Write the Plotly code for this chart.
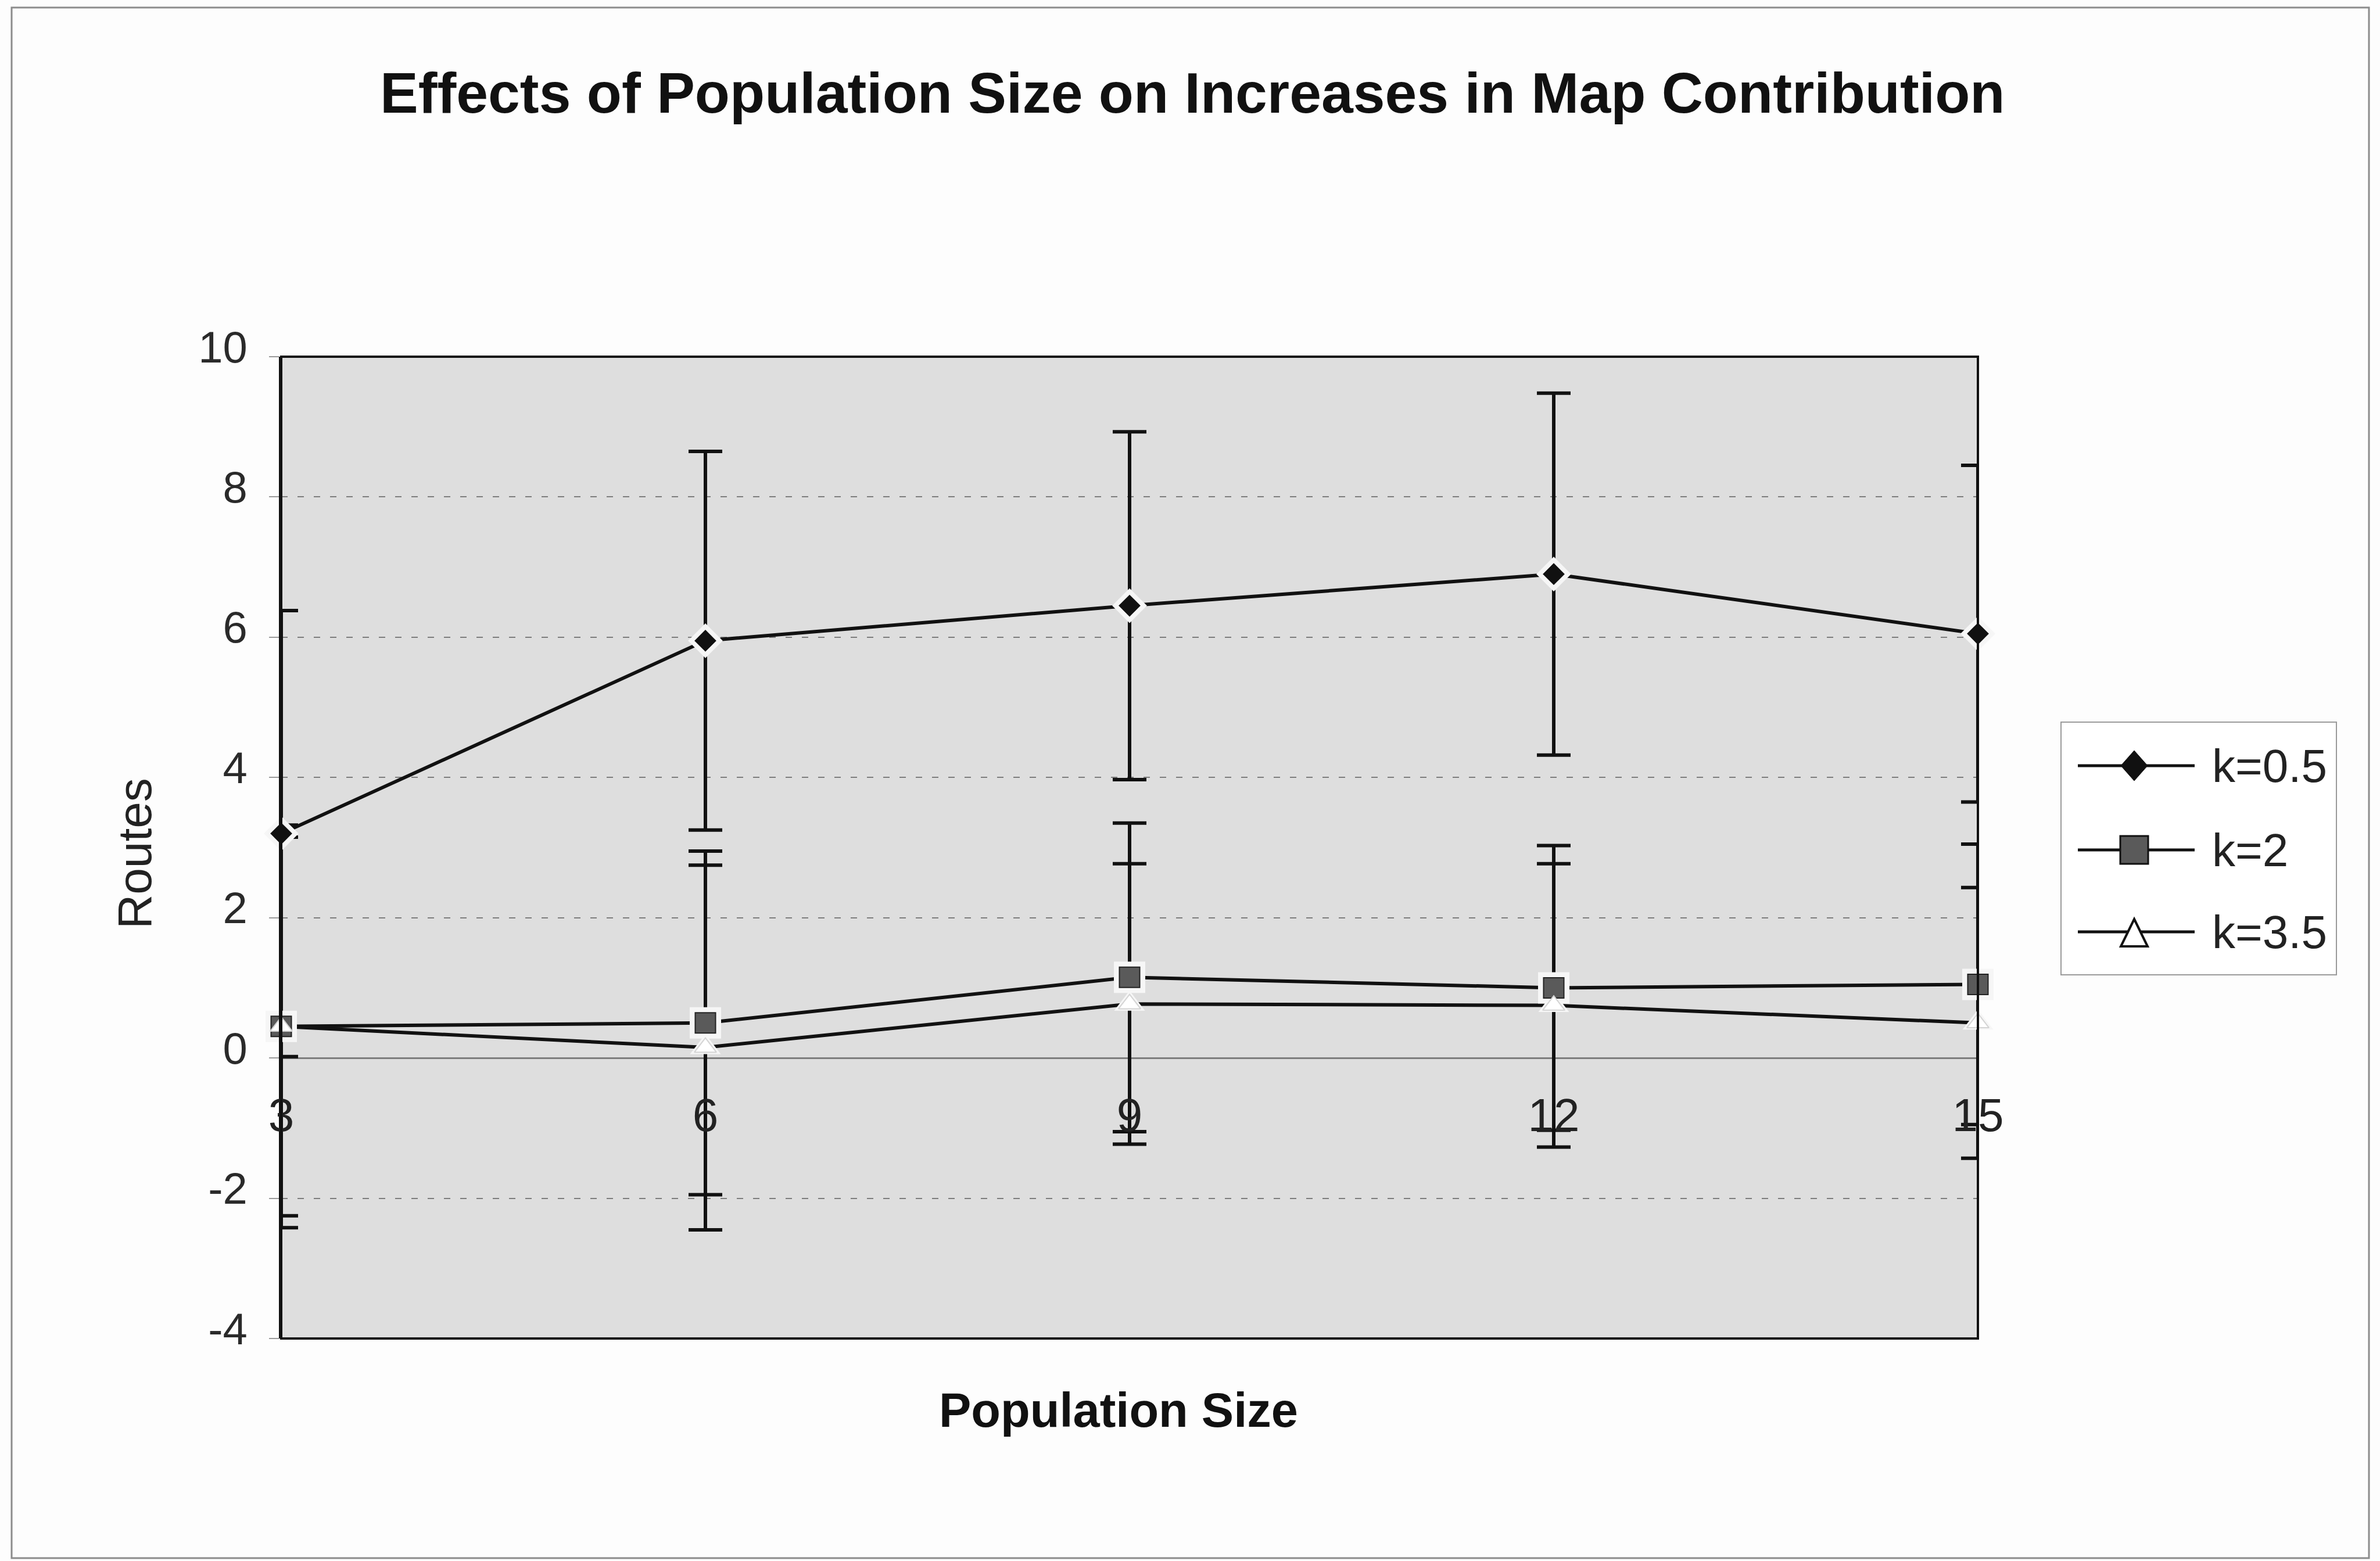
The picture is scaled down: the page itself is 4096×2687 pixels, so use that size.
import plotly.graph_objects as go

# ---- data -------------------------------------------------------------
population = [3, 6, 9, 12, 15]
x_tick_labels = ["3", "6", "9", "12", "15"]

y_tick_vals = [-4, -2, 0, 2, 4, 6, 8, 10]
y_tick_labels = ["-4", "-2", "0", "2", "4", "6", "8", "10"]

k05 = [3.2, 5.95, 6.45, 6.9, 6.05]
k05_err = [3.18, 2.7, 2.48, 2.58, 2.4]

k2 = [0.45, 0.5, 1.15, 1.0, 1.05]
k2_err = [2.7, 2.45, 2.2, 2.03, 2.0]

k35 = [0.45, 0.15, 0.77, 0.75, 0.5]
k35_err = [2.87, 2.6, 2.0, 2.02, 1.93]

series_names = ["k=0.5", "k=2", "k=3.5"]

# ---- geometry ---------------------------------------------------------
W, H = 4096, 2687
L, T = 484, 614          # plot area left / top
R_EDGE, B_EDGE = 3404, 2304
PW, PH = R_EDGE - L, B_EDGE - T

FONT = "Liberation Sans, Arial, sans-serif"
TXT = "#222222"
INK = "#111111"


def px(xp):
    return (xp - L) / PW


def py(yp):
    return 1 - (yp - T) / PH


fig = go.Figure()

err_style = dict(type="data", symmetric=True, color=INK, thickness=6, width=29)

# error bars first so that markers sit on top of them
for vals, errs in [(k05, k05_err), (k2, k2_err), (k35, k35_err)]:
    fig.add_trace(go.Scatter(
        x=population, y=vals, mode="markers",
        marker=dict(size=1, color="rgba(0,0,0,0)"),
        error_y=dict(array=errs, **err_style),
        showlegend=False, hoverinfo="skip", cliponaxis=False,
    ))

# connecting lines
for vals in [k05, k2, k35]:
    fig.add_trace(go.Scatter(
        x=population, y=vals, mode="lines",
        line=dict(color=INK, width=6),
        showlegend=False, hoverinfo="skip",
    ))

# white halos round the markers
halo = [("diamond", 46), ("square", 54), ("triangle-up", 46)]
for vals, (sym, size) in zip([k05, k2, k35], halo):
    fig.add_trace(go.Scatter(
        x=population, y=vals, mode="markers",
        marker=dict(symbol=sym, size=size, color="#f6f6f6", line=dict(width=0)),
        showlegend=False, hoverinfo="skip", cliponaxis=False,
    ))

# the markers themselves
marker_styles = [
    dict(symbol="diamond", size=29, color=INK, line=dict(width=0)),
    dict(symbol="square", size=35, color="#5a5a5a", line=dict(width=2, color="#222222")),
    dict(symbol="triangle-up", size=33, color="#ffffff", line=dict(width=2, color="#d4d4d4")),
]
for vals, name, ms in zip([k05, k2, k35], series_names, marker_styles):
    fig.add_trace(go.Scatter(
        x=population, y=vals, mode="markers", name=name,
        marker=ms, showlegend=False, cliponaxis=False,
    ))

# ---- legend (drawn by hand for long sample lines) ---------------------
leg_box = (3547, 1243, 4021, 1678)
leg_rows = [1318, 1463, 1604]
leg_line = (3576, 3777)
leg_mark_x = 3673
leg_text_x = 3805

shapes = []
annotations = []

# outer chart frame
shapes.append(dict(type="rect", xref="paper", yref="paper",
                   x0=px(20), x1=px(4077), y0=py(13), y1=py(2682),
                   line=dict(color="#8c8c8c", width=3), fillcolor="rgba(0,0,0,0)",
                   layer="below"))
# plot-area frame
shapes.append(dict(type="rect", xref="paper", yref="paper",
                   x0=0, x1=1, y0=0, y1=1,
                   line=dict(color=INK, width=4), layer="above"))
# legend frame
shapes.append(dict(type="rect", xref="paper", yref="paper",
                   x0=px(leg_box[0]), x1=px(leg_box[2]),
                   y0=py(leg_box[1]), y1=py(leg_box[3]),
                   line=dict(color="#9a9a9a", width=2), fillcolor="#ffffff"))


def poly(points):
    return "M" + " L".join(f"{px(a):.6f},{py(b):.6f}" for a, b in points) + " Z"


for yrow, name in zip(leg_rows, series_names):
    shapes.append(dict(type="line", xref="paper", yref="paper",
                       x0=px(leg_line[0]), x1=px(leg_line[1]),
                       y0=py(yrow), y1=py(yrow),
                       line=dict(color=INK, width=5)))
    annotations.append(dict(text=name, xref="paper", yref="paper",
                            x=px(leg_text_x), y=py(yrow), xanchor="left",
                            yanchor="middle", showarrow=False,
                            font=dict(family=FONT, size=80, color=TXT)))

cx = leg_mark_x
r0, r1, r2 = leg_rows
# diamond
shapes.append(dict(type="path", xref="paper", yref="paper",
                   path=poly([(cx, r0 - 26), (cx + 23, r0), (cx, r0 + 26), (cx - 23, r0)]),
                   fillcolor=INK, line=dict(color=INK, width=1)))
# square
shapes.append(dict(type="path", xref="paper", yref="paper",
                   path=poly([(cx - 24, r1 - 24), (cx + 24, r1 - 24),
                              (cx + 24, r1 + 24), (cx - 24, r1 + 24)]),
                   fillcolor="#5a5a5a", line=dict(color=INK, width=3)))
# triangle
shapes.append(dict(type="path", xref="paper", yref="paper",
                   path=poly([(cx, r2 - 22), (cx + 23, r2 + 25), (cx - 23, r2 + 25)]),
                   fillcolor="#ffffff", line=dict(color=INK, width=4)))

# titles
annotations.append(dict(text="Effects of Population Size on Increases in Map Contribution",
                        xref="paper", yref="paper", x=px(2052), y=py(160),
                        xanchor="center", yanchor="middle", showarrow=False,
                        font=dict(family=FONT, size=98.5, color=INK, weight="bold")))
annotations.append(dict(text="Population Size", xref="paper", yref="paper",
                        x=px(1925), y=py(2427), xanchor="center", yanchor="middle",
                        showarrow=False,
                        font=dict(family=FONT, size=83, color=INK, weight="bold")))
annotations.append(dict(text="Routes", xref="paper", yref="paper",
                        x=px(231), y=py(1469), xanchor="center", yanchor="middle",
                        textangle=-90, showarrow=False,
                        font=dict(family=FONT, size=82, color=TXT)))

fig.update_layout(
    width=W, height=H,
    margin=dict(l=L, r=W - R_EDGE, t=T, b=H - B_EDGE, pad=0),
    paper_bgcolor="#fdfdfd",
    plot_bgcolor="#dedede",
    showlegend=False,
    shapes=shapes,
    annotations=annotations,
    xaxis=dict(
        range=[3, 15], tickvals=population, ticktext=x_tick_labels,
        showgrid=False, zeroline=False, showline=False, ticks="",
        anchor="free", position=4 / 14, ticklabelstandoff=45,
        tickfont=dict(family=FONT, size=80, color=TXT),
    ),
    yaxis=dict(
        range=[-4, 10], tickvals=y_tick_vals, ticktext=y_tick_labels,
        showgrid=True, gridcolor="#7d7d7d", gridwidth=2, griddash="11px,17px",
        zeroline=True, zerolinecolor="#7d7d7d", zerolinewidth=3,
        showline=True, linecolor=INK, linewidth=4,
        ticks="outside", ticklen=17, tickwidth=2, tickcolor="#9a9a9a",
        ticklabelstandoff=22, ticklabelshift=-17,
        tickfont=dict(family=FONT, size=76, color="#2a2a2a"),
    ),
)

fig.write_html("out.html")
